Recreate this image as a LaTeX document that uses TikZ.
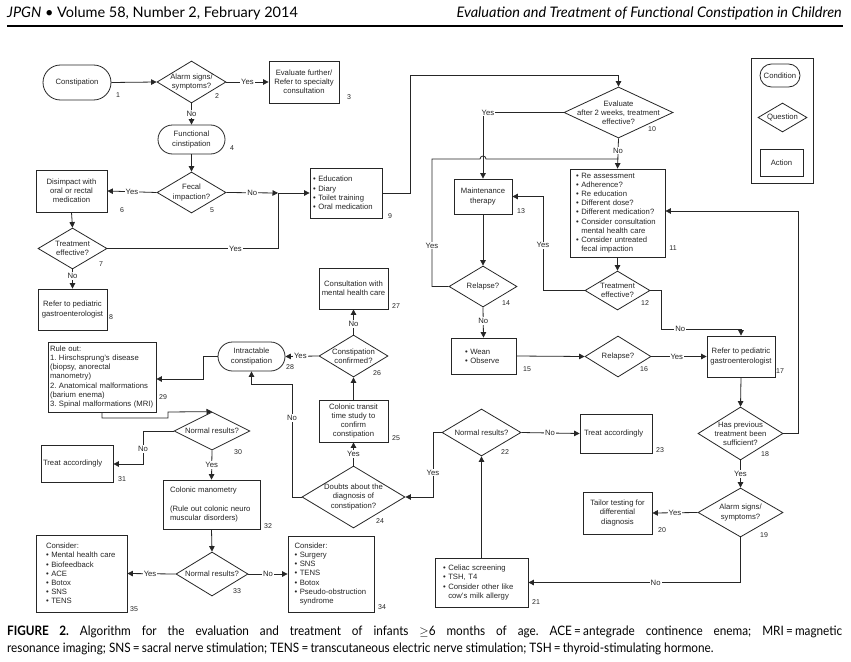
\documentclass[tikz,border=0pt]{standalone}
\usepackage{fontspec}
\setmainfont{Liberation Sans}
\newfontfamily\hdfont{Lato}
\newfontfamily\capfont[FakeStretch=0.905]{Lato}
\usetikzlibrary{shapes.geometric,shapes.misc,arrows.meta}
\definecolor{ink}{gray}{0.15}
\newcommand\bt{\textbullet\ }
\newcommand\bth{\phantom{\textbullet\ }}
\frenchspacing
\begin{document}
\begin{tikzpicture}[x=1pt,y=-1pt,
  f/.style={font=\fontsize{7.7}{9.2}\selectfont, text=ink},
  act/.style={draw=ink, line width=0.8pt, rectangle, f, align=center, inner sep=1pt},
  lact/.style={draw=ink, line width=0.8pt, rectangle, f, align=left, inner ysep=0pt},
  cond/.style={draw=ink, line width=0.8pt, rounded rectangle, f, align=center, inner sep=1pt},
  ques/.style={draw=ink, line width=0.8pt, diamond, inner sep=0pt},
  qt/.style={f, align=center, inner sep=0pt},
  num/.style={font=\fontsize{7}{8}\selectfont, text=ink, inner sep=0pt},
  lbl/.style={f, fill=white, inner sep=1pt},
  arr/.style={draw=ink, line width=0.8pt, -{Triangle[length=5.5pt,width=5.5pt]}},
  con/.style={draw=ink, line width=0.8pt}]
\useasboundingbox[fill=white] (0,0) rectangle (851,661);

% header
\node[anchor=base west, inner sep=0pt, font=\hdfont\fontsize{14.5}{16}\selectfont] (hdl) at (7,18) {\itshape JPGN\upshape{} • Volume 58, Number 2, February 2014};
\node[anchor=base east, inner sep=0pt, font=\hdfont\fontsize{14.5}{16}\selectfont\itshape] (hdr) at (842,18) {Evaluation and Treatment of Functional Constipation in Children};
\draw[line width=2pt] (7,26) -- (843,26);

% legend
\node[draw=ink, line width=0.8pt, minimum width=62pt, minimum height=125pt] (leg) at (782,120.5) {};
\node[cond, minimum width=42pt, minimum height=23pt] (lc) at (780,75.5) {Condition};
\node[ques, minimum width=49pt, minimum height=29pt, label={[qt]center:Question}] (lq) at (782.5,117.5) {};
\node[act, minimum width=43pt, minimum height=27pt] (la) at (781.5,162.5) {Action};

% nodes
\node[cond, minimum width=70pt, minimum height=35pt] (n1) at (77,82.5) {Constipation};
\node[ques, minimum width=69pt, minimum height=42pt, label={[qt]center:{Alarm signs/\\symptoms?}}] (n2) at (191.5,82) {};
\node[act, minimum width=70pt, minimum height=42pt] (n3) at (304,82) {Evaluate further/\\Refer to specialty\\consultation};
\node[cond, minimum width=69pt, minimum height=29pt] (n4) at (191.5,139.5) {Functional\\cinstipation};
\node[ques, minimum width=69pt, minimum height=41pt, label={[qt]center:{Fecal\\impaction?}}] (n5) at (191.5,192.5) {};
\node[act, minimum width=71pt, minimum height=42pt] (n6) at (71.5,191) {Disimpact with\\oral or rectal\\medication};
\node[ques, minimum width=69pt, minimum height=41pt, label={[qt]center:{Treatment\\effective?}}] (n7) at (72.5,248.5) {};
\node[act, minimum width=69pt, minimum height=41pt] (n8) at (72.5,309.5) {Refer to pediatric\\gastroenterologist};
\node[lact, minimum height=50pt, text width=66pt, inner xsep=3pt] (n9) at (346,193) {\bt Education\\\bt Diary\\\bt Toilet training\\\bt Oral medication};
\node[ques, minimum width=109pt, minimum height=51pt, label={[qt]center:{Evaluate\\after 2 weeks, treatment\\effective?}}] (n10) at (618.5,112.5) {};
\node[lact, minimum height=88pt, text width=83pt, inner xsep=6pt] (n11) at (617.5,213) {\bt Re assessment\\\bt Adherence?\\\bt Re education\\\bt Different dose?\\\bt Different medication?\\\bt Consider consultation\\\bth mental health care\\\bt Consider untreated\\\bth fecal impaction};
\node[act, minimum width=58pt, minimum height=35pt] (n13) at (483,196.5) {Maintenance\\therapy};
\node[ques, minimum width=68pt, minimum height=41pt, label={[qt]center:Relapse?}] (n14) at (483,286.5) {};
\node[ques, minimum width=65pt, minimum height=39pt, label={[qt]center:{Treatment\\effective?}}] (n12) at (617.5,290.5) {};
\node[lact, minimum height=36pt, text width=37pt, inner xsep=14pt] (n15) at (483.5,356) {\bt Wean\\\bt Observe};
\node[ques, minimum width=66pt, minimum height=41pt, label={[qt]center:Relapse?}] (n16) at (618,356.5) {};
\node[act, minimum width=68pt, minimum height=41pt] (n17) at (741,356.5) {Refer to pediatric\\gastroenterologist};
\node[ques, minimum width=85pt, minimum height=53pt, label={[qt]center:{Has previous\\treatment been\\sufficient?}}] (n18) at (740.5,433.5) {};
\node[ques, minimum width=85pt, minimum height=49pt, label={[qt]center:{Alarm signs/\\symptoms?}}] (n19) at (740.5,512.5) {};
\node[act, minimum width=69pt, minimum height=42pt] (n20) at (617.5,513) {Tailor testing for\\differential\\diagnosis};
\node[lact, minimum height=49pt, text width=77pt, inner xsep=8pt] (n21) at (481.5,582.5) {\bt Celiac screening\\\bt TSH, T4\\\bt Consider other like\\\bth cow's milk allergy};
\node[ques, minimum width=79pt, minimum height=47pt, label={[qt]center:Normal results?}] (n22) at (481.5,432.5) {};
\node[lact, minimum height=39pt, text width=64pt, inner xsep=4pt] (n23) at (616,433.5) {Treat accordingly};
\node[ques, minimum width=103pt, minimum height=62pt, label={[qt]center:{Doubts about the\\diagnosis of\\constipation?}}] (n24) at (353.5,497) {};
\node[act, minimum width=69pt, minimum height=42pt] (n25) at (353.5,421) {Colonic transit\\time study to\\confirm\\constipation};
\node[ques, minimum width=69pt, minimum height=42pt, label={[qt]center:{Constipation\\confirmed?}}] (n26) at (353.5,356) {};
\node[act, minimum width=69pt, minimum height=41pt] (n27) at (353.5,288.5) {Consultation with\\mental health care};
\node[cond, minimum width=69pt, minimum height=29pt] (n28) at (251.5,356.5) {Intractable\\constipation};
\node[lact, minimum height=70pt, text width=104pt, inner xsep=2pt] (n29) at (102,377) {Rule out:\\1. Hirschsprung's disease\\(biopsy, anorectal\\manometry)\\2. Anatomical malformations\\(barium enema)\\3. Spinal malformations (MRI)};
\node[ques, minimum width=76pt, minimum height=38pt, label={[qt]center:Normal results?}] (n30) at (212,431) {};
\node[lact, minimum height=37pt, text width=68pt, inner xsep=2pt] (n31) at (77,463.5) {Treat accordingly};
\node[lact, minimum height=49pt, text width=83pt, inner xsep=7pt] (n32) at (211.5,504.5) {Colonic manometry\\[9.2pt](Rule out colonic neuro\\muscular disorders)};
\node[ques, minimum width=72pt, minimum height=44pt, label={[qt]center:Normal results?}] (n33) at (212,574) {};
\node[lact, minimum height=76pt, text width=73pt, inner xsep=6.5pt] (n34) at (331,574) {Consider:\\\bt Surgery\\\bt SNS\\\bt TENS\\\bt Botox\\\bt Pseudo-obstruction\\\bth syndrome};
\node[lact, minimum height=77pt, text width=71pt, inner xsep=10pt] (n35) at (81.5,573.5) {Consider:\\\bt Mental health care\\\bt Biofeedback\\\bt ACE\\\bt Botox\\\bt SNS\\\bt TENS};

% numbers
\node[num] (lab1) at (118,95) {1};
\node[num] (lab2) at (217,96) {2};
\node[num] (lab3) at (349,97) {3};
\node[num] (lab4) at (232,148) {4};
\node[num] (lab5) at (212,210) {5};
\node[num] (lab6) at (122,210) {6};
\node[num] (lab7) at (101,264) {7};
\node[num] (lab8) at (111,317) {8};
\node[num] (lab9) at (390,216) {9};
\node[num] (lab10) at (652,129) {10};
\node[num] (lab11) at (673,248) {11};
\node[num] (lab12) at (645,303) {12};
\node[num] (lab13) at (521,211) {13};
\node[num] (lab14) at (506,303) {14};
\node[num] (lab15) at (527,369) {15};
\node[num] (lab16) at (644,369) {16};
\node[num] (lab17) at (780,371) {17};
\node[num] (lab18) at (765,454) {18};
\node[num] (lab19) at (764,535) {19};
\node[num] (lab20) at (662,530) {20};
\node[num] (lab21) at (536,602) {21};
\node[num] (lab22) at (505,452) {22};
\node[num] (lab23) at (660,450) {23};
\node[num] (lab24) at (380,521) {24};
\node[num] (lab25) at (396,438) {25};
\node[num] (lab26) at (377,373) {26};
\node[num] (lab27) at (396,306) {27};
\node[num] (lab28) at (290,367) {28};
\node[num] (lab29) at (163,397) {29};
\node[num] (lab30) at (238,452) {30};
\node[num] (lab31) at (122,479) {31};
\node[num] (lab32) at (268,526) {32};
\node[num] (lab33) at (237,591) {33};
\node[num] (lab34) at (382,607) {34};
\node[num] (lab35) at (134,609) {35};

% coordinates
\coordinate (j9) at (278,193);
\coordinate (c9) at (410,75);
\coordinate (c12) at (543,196.5);
\coordinate (c14a) at (432,286.5);
\coordinate (c14b) at (432,159);
\coordinate (h1) at (480,159);
\coordinate (c14c) at (618.5,159);
\coordinate (c12n) at (661,329);
\coordinate (c18) at (798,211);
\coordinate (c22) at (433,432.5);
\coordinate (c24) at (292,384);
\coordinate (c28) at (203,379);
\coordinate (c29a) at (102,418);
\coordinate (c29b) at (168,418);
\coordinate (c29c) at (168,412);
\coordinate (c30) at (143,464);

% connectors
\draw[arr] (n1.east) -- (n2.west);
\draw[arr] (n2.east) -- node[lbl]{Yes} (n3.west);
\draw[arr] (n2.south) -- node[lbl]{No} (n4.north);
\draw[arr] (n4.south) -- (n5.north);
\draw[arr] (n5.west) -- node[lbl]{Yes} (n6.east);
\draw[arr] (n5.east) -- node[lbl]{No} (j9);
\draw[arr] (n6.south) -- (n7.north);
\draw[arr] (n7.east) -- node[lbl,pos=0.75]{Yes} (n7.east -| j9) -- (j9) -- (n9.west);
\draw[arr] (n7.south) -- node[lbl,pos=0.35]{No} (n8.north);
\draw[arr] (n9.east) -| (c9) -| (n10.north);
\draw[arr] (n10.west) -| node[lbl,pos=0.5,xshift=5pt]{Yes} (n13.north);
\draw[arr] (n10.south) -- node[lbl,pos=0.4]{No} (n11.north);
\draw[arr] (n11.south) -- (n12.north);
\draw[arr] (n12.west) -| node[lbl,pos=0.74]{Yes} (c12) -- (n13.east);
\draw[arr] (n13.south) -- (n14.north);
\draw[con] (n14.west) -- (c14a) -- node[lbl,pos=0.32]{Yes} (c14b) -- (h1) arc[start angle=180,end angle=0,radius=3pt] -- (c14c);
\draw[arr] (n14.south) -- node[lbl,pos=0.45]{No} (n15.north);
\draw[arr] (n15.east) -- (n16.west);
\draw[arr] (n16.east) -- node[lbl,pos=0.46]{Yes} (n17.west);
\draw[arr] (n12.east) -| (c12n) -| node[lbl,pos=0.12]{No} (n17.north);
\draw[arr] (n17.south) -- (n18.north);
\draw[arr] (n18.east) -| (c18) -- (c18 -| n11.east);
\draw[arr] (n18.south) -- node[lbl]{Yes} (n19.north);
\draw[arr] (n19.west) -- node[lbl]{Yes} (n20.east);
\draw[arr] (n19.south) |- node[lbl,pos=0.7]{No} (n21.east);
\draw[arr] (n21.north) -- (n22.south);
\draw[arr] (n22.east) -- node[lbl,pos=0.49]{No} (n23.west);
\draw[arr] (n22.west) -- (c22) |- node[lbl,pos=0.31]{Yes} (n24.east);
\draw[arr] (n24.north) -- node[lbl]{Yes} (n25.south);
\draw[arr] (n25.north) -- (n26.south);
\draw[arr] (n26.north) -- node[lbl,pos=0.42]{No} (n27.south);
\draw[arr] (n26.west) -- node[lbl,pos=0.55]{Yes} (n28.east);
\draw[arr] (n24.west) -| node[lbl,pos=0.85]{No} (c24) -| (n28.south);
\draw[arr] (n28.west) -| (c28) -- (c28 -| n29.east);
\draw[arr] (n29.south) -- (c29a) -- (c29b) -- (c29c) -- (n30.north);
\draw[arr] (n30.west) -| node[lbl,pos=0.77]{No} (c30) -- (c30 -| n31.east);
\draw[arr] (n30.south) -- node[lbl]{Yes} (n32.north);
\draw[arr] (n32.south) -- (n33.north);
\draw[arr] (n33.west) -- node[lbl,pos=0.53]{Yes} (n35.east);
\draw[arr] (n33.east) -- node[lbl]{No} (n34.west);

% caption
\node[anchor=north west, inner sep=0pt, text width=835pt, align=justify, font=\capfont\fontsize{13}{17}\selectfont] (cap) at (7,626) {\textbf{FIGURE 2.} Algorithm for the evaluation and treatment of infants $\geq$6 months of age. ACE\,=\,antegrade continence enema; MRI\,=\,magnetic\linebreak resonance imaging; SNS\,=\,sacral nerve stimulation; TENS\,=\,transcutaneous electric nerve stimulation; TSH\,=\,thyroid-stimulating hormone.};
\end{tikzpicture}
\end{document}
